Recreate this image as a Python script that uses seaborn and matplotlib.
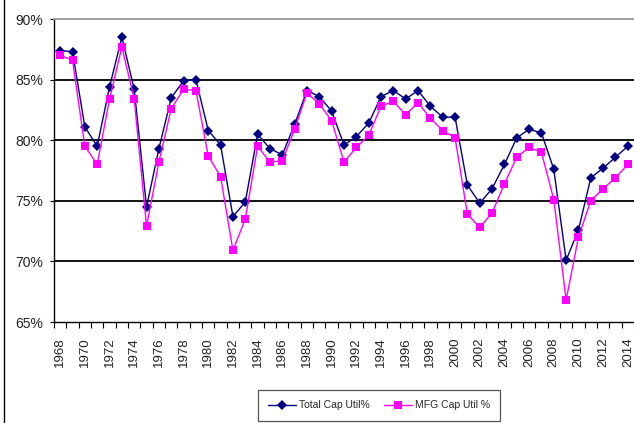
import pandas as pd
import seaborn as sns
import matplotlib.pyplot as plt
from matplotlib import font_manager
from matplotlib.lines import Line2D
from matplotlib.ticker import FixedLocator, FuncFormatter

years = list(range(1968, 2015))
total_cap = [87.4, 87.3, 81.1, 79.5, 84.4, 88.5, 84.2, 74.5, 79.3, 83.5,
             84.9, 85.0, 80.8, 79.6, 73.7, 74.9, 80.5, 79.3, 78.8, 81.3,
             84.1, 83.6, 82.4, 79.6, 80.3, 81.4, 83.6, 84.1, 83.4, 84.1,
             82.8, 81.9, 81.9, 76.3, 74.8, 76.0, 78.0, 80.2, 80.9, 80.6,
             77.6, 70.1, 72.6, 76.9, 77.7, 78.6, 79.5]
mfg_cap = [87.0, 86.6, 79.5, 78.0, 83.4, 87.7, 83.4, 72.9, 78.2, 82.6,
           84.2, 84.1, 78.7, 77.0, 70.9, 73.5, 79.5, 78.2, 78.3, 80.9,
           83.9, 83.0, 81.6, 78.2, 79.4, 80.4, 82.8, 83.2, 82.1, 83.1,
           81.8, 80.8, 80.2, 73.9, 72.8, 74.0, 76.4, 78.6, 79.4, 79.0,
           75.1, 66.8, 72.0, 75.0, 76.0, 76.9, 78.0]
series_names = ['Total Cap Util%', 'MFG Cap Util %']

df = pd.DataFrame({'year': years * 2,
                   'value': total_cap + mfg_cap,
                   'series': [series_names[0]] * len(years) + [series_names[1]] * len(years)})

sns.set_style('white')
names = {f.name for f in font_manager.fontManager.ttflist}
narrow = 'Liberation Sans Narrow' if 'Liberation Sans Narrow' in names else 'Liberation Sans'
plt.rcParams['font.family'] = ['Liberation Sans', 'DejaVu Sans']

fig = plt.figure(figsize=(6.34, 4.23), dpi=100)
ax = fig.add_axes([54 / 634, 1 - 322 / 423, 580 / 634, (322 - 19) / 423])

sns.lineplot(data=df, x='year', y='value', hue='series', style='series',
             palette={series_names[0]: '#000080', series_names[1]: '#FF00FF'},
             markers={series_names[0]: 'D', series_names[1]: 's'},
             dashes=False, linewidth=1.0, markersize=5.5, markeredgewidth=0,
             ax=ax, legend=True)

ax.set_xlim(1967.5, 2014.5)
ax.set_ylim(65, 90)
ax.set_xlabel('')
ax.set_ylabel('')

# y axis
ax.set_yticks(range(65, 91, 5))
ax.yaxis.set_major_formatter(FuncFormatter(lambda v, p: f'{int(v)}%'))
ax.tick_params(axis='y', direction='out', length=3, width=0.8, color='black',
               pad=5, labelsize=10, labelcolor='#222222', left=True)
for lbl in ax.get_yticklabels():
    lbl.set_family([narrow, 'DejaVu Sans'])
for v in range(70, 90, 5):
    ax.axhline(v, color='black', lw=1.3, zorder=0)

# x axis: ticks between categories, labels on even years
ax.xaxis.set_major_locator(FixedLocator([y - 0.5 for y in years] + [2014.5]))
ax.xaxis.set_major_formatter(FuncFormatter(lambda v, p: ''))
ax.xaxis.set_minor_locator(FixedLocator([y for y in years if y % 2 == 0]))
ax.xaxis.set_minor_formatter(FuncFormatter(lambda v, p: f'{int(round(v))}'))
ax.tick_params(axis='x', which='major', direction='out', length=4, width=0.8,
               color='black', bottom=True)
ax.tick_params(axis='x', which='minor', length=0, pad=11, labelsize=9.5,
               labelrotation=90, labelcolor='#222222')

for side in ['left', 'bottom']:
    ax.spines[side].set_color('black')
    ax.spines[side].set_linewidth(1.0)
ax.spines['top'].set_color('#999999')
ax.spines['top'].set_linewidth(1.3)
ax.spines['right'].set_visible(False)

handles, labels = ax.get_legend_handles_labels()
ax.get_legend().remove()
leg = fig.legend(handles, labels, loc='upper center', bbox_to_anchor=(379 / 634, 1 - 390 / 423),
                 ncol=2, frameon=True, fancybox=False, edgecolor='#555555',
                 prop={'family': [narrow, 'DejaVu Sans'], 'size': 7.5},
                 handlelength=2.7, handletextpad=0.3, columnspacing=1.3,
                 borderpad=1.0, borderaxespad=0, framealpha=1)
leg.get_frame().set_linewidth(0.9)

# chart area border on the left
fig.add_artist(Line2D([4 / 634, 4 / 634], [0, 1], color='black', lw=1.0, transform=fig.transFigure))

fig.savefig('out.png', dpi=100)
